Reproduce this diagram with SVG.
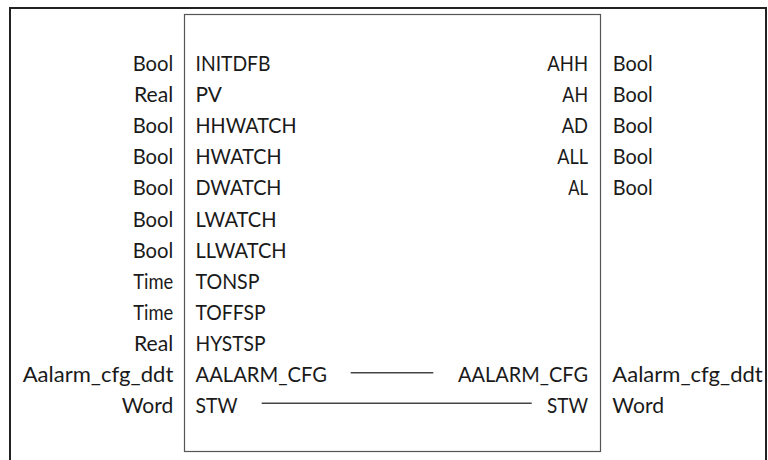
<svg xmlns="http://www.w3.org/2000/svg" width="768" height="460" viewBox="0 0 768 460">
<style>
text{font-family:Lato,"Open Sans","Liberation Sans",sans-serif;font-size:20.5px;fill:#1a1a1a}
.r{text-anchor:end}
.frame{fill:none;stroke:#222;stroke-width:2}
.box{fill:#fff;stroke:#555;stroke-width:1.2}
.conn{stroke:#444;stroke-width:1.6;fill:none}
</style>
<rect width="768" height="460" fill="#fff"/>
<g id="frame"><rect class="frame" x="10" y="8" width="756" height="470"/></g>
<g id="block">
<rect class="box" x="184.5" y="14.5" width="416" height="437"/>
<text x="195.5" y="70.7" textLength="75" lengthAdjust="spacingAndGlyphs">INITDFB</text>
<text x="195.5" y="101.9" textLength="26.5" lengthAdjust="spacingAndGlyphs">PV</text>
<text x="195.5" y="133" textLength="101" lengthAdjust="spacingAndGlyphs">HHWATCH</text>
<text x="195.5" y="164.2" textLength="86" lengthAdjust="spacingAndGlyphs">HWATCH</text>
<text x="195.5" y="195.3" textLength="86" lengthAdjust="spacingAndGlyphs">DWATCH</text>
<text x="195.5" y="226.5" textLength="81" lengthAdjust="spacingAndGlyphs">LWATCH</text>
<text x="195.5" y="257.6" textLength="91" lengthAdjust="spacingAndGlyphs">LLWATCH</text>
<text x="195.5" y="288.8" textLength="64" lengthAdjust="spacingAndGlyphs">TONSP</text>
<text x="195.5" y="319.9" textLength="70" lengthAdjust="spacingAndGlyphs">TOFFSP</text>
<text x="195.5" y="351.1" textLength="70" lengthAdjust="spacingAndGlyphs">HYSTSP</text>
<text x="195.5" y="382.2" textLength="131.5" lengthAdjust="spacingAndGlyphs">AALARM_CFG</text>
<text x="195.5" y="413.4" textLength="42" lengthAdjust="spacingAndGlyphs">STW</text>
<text x="547.3" y="70.7" textLength="40.7" lengthAdjust="spacingAndGlyphs">AHH</text>
<text x="562.3" y="101.9" textLength="25.7" lengthAdjust="spacingAndGlyphs">AH</text>
<text x="561.7" y="133" textLength="26.3" lengthAdjust="spacingAndGlyphs">AD</text>
<text x="557.3" y="164.2" textLength="30.7" lengthAdjust="spacingAndGlyphs">ALL</text>
<text x="568.3" y="195.3" textLength="19.7" lengthAdjust="spacingAndGlyphs">AL</text>
<text x="458" y="382.2" textLength="130" lengthAdjust="spacingAndGlyphs">AALARM_CFG</text>
<text x="547" y="413.4" textLength="41" lengthAdjust="spacingAndGlyphs">STW</text>
</g>
<g id="input-types">
<text x="132.7" y="70.7" textLength="40.6" lengthAdjust="spacingAndGlyphs">Bool</text>
<text x="134" y="101.9" textLength="39.3" lengthAdjust="spacingAndGlyphs">Real</text>
<text x="132.7" y="133" textLength="40.6" lengthAdjust="spacingAndGlyphs">Bool</text>
<text x="132.7" y="164.2" textLength="40.6" lengthAdjust="spacingAndGlyphs">Bool</text>
<text x="132.7" y="195.3" textLength="40.6" lengthAdjust="spacingAndGlyphs">Bool</text>
<text x="132.7" y="226.5" textLength="40.6" lengthAdjust="spacingAndGlyphs">Bool</text>
<text x="132.7" y="257.6" textLength="40.6" lengthAdjust="spacingAndGlyphs">Bool</text>
<text x="133.3" y="288.8" textLength="40" lengthAdjust="spacingAndGlyphs">Time</text>
<text x="133.3" y="319.9" textLength="40" lengthAdjust="spacingAndGlyphs">Time</text>
<text x="134" y="351.1" textLength="39.3" lengthAdjust="spacingAndGlyphs">Real</text>
<text x="22.7" y="382.2" textLength="150.6" lengthAdjust="spacingAndGlyphs">Aalarm_cfg_ddt</text>
<text x="121.7" y="413.4" textLength="51.6" lengthAdjust="spacingAndGlyphs">Word</text>
</g>
<g id="output-types">
<text x="612.7" y="70.7" textLength="40" lengthAdjust="spacingAndGlyphs">Bool</text>
<text x="612.7" y="101.9" textLength="40" lengthAdjust="spacingAndGlyphs">Bool</text>
<text x="612.7" y="133" textLength="40" lengthAdjust="spacingAndGlyphs">Bool</text>
<text x="612.7" y="164.2" textLength="40" lengthAdjust="spacingAndGlyphs">Bool</text>
<text x="612.7" y="195.3" textLength="40" lengthAdjust="spacingAndGlyphs">Bool</text>
<text x="612.3" y="382.2" textLength="150.4" lengthAdjust="spacingAndGlyphs">Aalarm_cfg_ddt</text>
<text x="612.3" y="413.4" textLength="51.7" lengthAdjust="spacingAndGlyphs">Word</text>
</g>
<g id="connectors">
<line class="conn" x1="350.7" y1="372.7" x2="433.3" y2="372.7"/>
<line class="conn" x1="261.7" y1="403.3" x2="531.7" y2="403.3"/>
</g>
</svg>
